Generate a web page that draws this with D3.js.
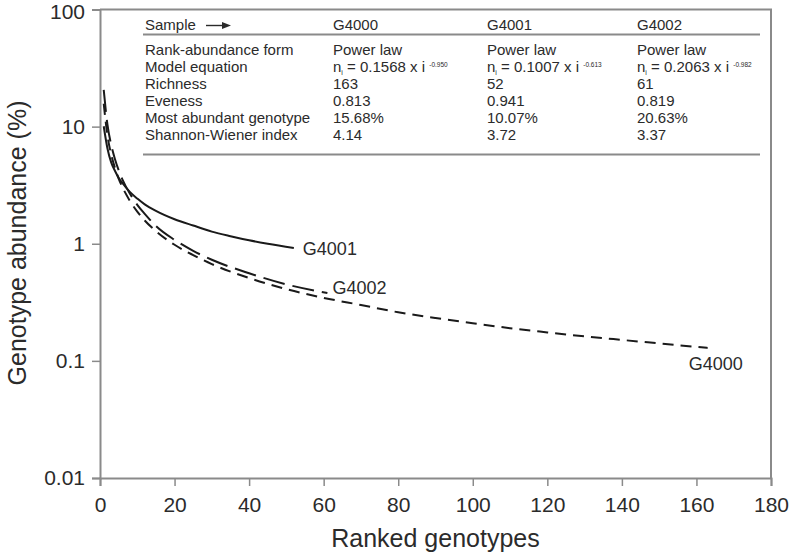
<!DOCTYPE html>
<html>
<head>
<meta charset="utf-8">
<script src="https://cdn.jsdelivr.net/npm/d3@7"></script>
<style>
  html, body { margin: 0; padding: 0; background: #fff; }
  svg { display: block; font-family: "Liberation Sans", Arial, sans-serif; }
</style>
</head>
<body>
<svg id="chart" width="789" height="555"></svg>
<script>
// ---- Data ----
const ranksG4000 = [1, 2, 3, 4, 5, 6, 8, 10, 12, 15, 20, 25, 30, 40, 50, 60, 70, 80, 90, 100, 110, 120, 130, 140, 150, 163];
const valuesG4000 = [15.68, 8.4, 5.8, 4.45, 3.6, 3.05, 2.33, 1.88, 1.58, 1.28, 0.98, 0.80, 0.67, 0.51, 0.41, 0.345, 0.30, 0.26, 0.232, 0.21, 0.19, 0.175, 0.162, 0.151, 0.141, 0.129];

const ranksG4001 = [1, 2, 3, 4, 5, 6, 8, 10, 12, 15, 20, 25, 30, 35, 40, 45, 52];
const valuesG4001 = [10.07, 6.5, 4.95, 4.2, 3.66, 3.3, 2.77, 2.43, 2.17, 1.91, 1.62, 1.43, 1.27, 1.16, 1.07, 1.0, 0.92];

const ranksG4002 = [1, 2, 3, 4, 5, 6, 8, 10, 12, 15, 20, 25, 30, 40, 50, 61];
const valuesG4002 = [20.63, 10.4, 7.0, 5.3, 4.25, 3.55, 2.68, 2.15, 1.8, 1.42, 1.08, 0.87, 0.73, 0.56, 0.45, 0.38];

const seriesNames = ["G4000", "G4001", "G4002"];

// Axis ticks
const xTicks = [0, 20, 40, 60, 80, 100, 120, 140, 160, 180];
const yTicks = [0.01, 0.1, 1, 10, 100];
const yTickLabels = ["0.01", "0.1", "1", "10", "100"];

// Table contents
const tableRowLabels = ["Rank-abundance form", "Model equation", "Richness", "Eveness", "Most abundant genotype", "Shannon-Wiener index"];
const rankForm = ["Power law", "Power law", "Power law"];
const modelCoef = ["0.1568", "0.1007", "0.2063"];
const modelExp = ["-0.950", "-0.613", "-0.982"];
const richness = ["163", "52", "61"];
const evenness = ["0.813", "0.941", "0.819"];
const mostAbundant = ["15.68%", "10.07%", "20.63%"];
const shannon = ["4.14", "3.72", "3.37"];

// ---- Layout ----
const svg = d3.select("#chart");
const pLeft = 100, pRight = 771, pTop = 9.5, pBottom = 478;
const axisColor = "#8a8a8a";
const textColor = "#2b2b2b";

const x = d3.scaleLinear().domain([0, 180]).range([pLeft, pRight]);
const y = d3.scaleLog().domain([0.01, 100]).range([pBottom, pTop]);

// Frame (top & right)
svg.append("path")
  .attr("d", `M${pLeft},${pTop}H${pRight}V${pBottom}`)
  .attr("fill", "none").attr("stroke", axisColor).attr("stroke-width", 2);

// X axis
const xAxis = svg.append("g")
  .attr("transform", `translate(0,${pBottom})`)
  .call(d3.axisBottom(x).tickValues(xTicks).tickSize(8).tickPadding(11).tickFormat(d3.format("d")));
xAxis.select(".domain").attr("stroke", axisColor).attr("stroke-width", 2);
xAxis.selectAll(".tick line").attr("stroke", axisColor).attr("stroke-width", 1.5);
xAxis.selectAll(".tick text").attr("font-size", 21).attr("fill", textColor)
  .attr("font-family", "Liberation Sans, Arial, sans-serif");

// Y axis
const yAxis = svg.append("g")
  .attr("transform", `translate(${pLeft},0)`)
  .call(d3.axisLeft(y).tickValues(yTicks).tickSize(8).tickPadding(7)
    .tickFormat((d, i) => yTickLabels[i]));
yAxis.select(".domain").attr("stroke", axisColor).attr("stroke-width", 2);
yAxis.selectAll(".tick line").attr("stroke", axisColor).attr("stroke-width", 1.5);
yAxis.selectAll(".tick text").attr("font-size", 21).attr("fill", textColor)
  .attr("font-family", "Liberation Sans, Arial, sans-serif");
// keep the top label inside the picture
yAxis.selectAll(".tick text").filter(d => d === 100).attr("dy", "0.42em");

// Axis titles
svg.append("text")
  .attr("x", (pLeft + pRight) / 2).attr("y", 547)
  .attr("text-anchor", "middle").attr("font-size", 25).attr("fill", textColor)
  .text("Ranked genotypes");
svg.append("text")
  .attr("transform", `translate(26,243) rotate(-90)`)
  .attr("text-anchor", "middle").attr("font-size", 25).attr("fill", textColor)
  .text("Genotype abundance (%)");

// Curves
const series = [
  { name: "G4000", ranks: ranksG4000, values: valuesG4000, dash: "11,7" },
  { name: "G4001", ranks: ranksG4001, values: valuesG4001, dash: null },
  { name: "G4002", ranks: ranksG4002, values: valuesG4002, dash: "22,8" }
];
const line = d3.line()
  .x(d => x(d[0])).y(d => y(d[1]))
  .curve(d3.curveMonotoneX);
series.forEach(s => {
  const pts = s.ranks.map((r, i) => [r, s.values[i]]);
  svg.append("path")
    .datum(pts)
    .attr("d", line)
    .attr("fill", "none")
    .attr("stroke", "#1a1a1a")
    .attr("stroke-width", 2)
    .attr("stroke-dasharray", s.dash);
});

// Series labels near curve ends
const labelOffsets = { G4000: [-19, 16], G4001: [9, 1], G4002: [5, -5] };
series.forEach(s => {
  const lastR = s.ranks[s.ranks.length - 1];
  const lastV = s.values[s.values.length - 1];
  const off = labelOffsets[s.name];
  svg.append("text")
    .attr("x", x(lastR) + off[0]).attr("y", y(lastV) + off[1])
    .attr("dy", "0.35em")
    .attr("font-size", 18).attr("fill", textColor)
    .text(s.name);
});

// ---- Table ----
const tbl = svg.append("g").attr("font-size", 15).attr("fill", textColor);
const colX = [145, 333, 487, 637];
const headerY = 25;
const rowY0 = 50, rowStep = 17;

tbl.append("text").attr("x", colX[0]).attr("y", headerY).attr("dy", "0.35em").text("Sample");
// arrow
tbl.append("line").attr("x1", 206).attr("x2", 224).attr("y1", headerY + 0.5).attr("y2", headerY + 0.5)
  .attr("stroke", textColor).attr("stroke-width", 1.4);
tbl.append("path").attr("d", `M222,${headerY - 3}L231,${headerY + 0.5}L222,${headerY + 4}Z`).attr("fill", textColor);

seriesNames.forEach((n, i) => {
  tbl.append("text").attr("x", colX[i + 1]).attr("y", headerY).attr("dy", "0.35em").text(n);
});

// horizontal rules
[34.5, 154.5].forEach(yy => {
  svg.append("line").attr("x1", 143).attr("x2", 760).attr("y1", yy).attr("y2", yy)
    .attr("stroke", axisColor).attr("stroke-width", 2);
});

tableRowLabels.forEach((lab, r) => {
  tbl.append("text").attr("x", colX[0]).attr("y", rowY0 + r * rowStep).attr("dy", "0.35em").text(lab);
});

const simpleRows = { 0: rankForm, 2: richness, 3: evenness, 4: mostAbundant, 5: shannon };
Object.keys(simpleRows).forEach(k => {
  const r = +k;
  simpleRows[k].forEach((v, i) => {
    tbl.append("text").attr("x", colX[i + 1]).attr("y", rowY0 + r * rowStep).attr("dy", "0.35em").text(v);
  });
});

// equations
modelCoef.forEach((c, i) => {
  const t = tbl.append("text").attr("x", colX[i + 1]).attr("y", rowY0 + 1 * rowStep).attr("dy", "0.35em");
  t.append("tspan").text("n");
  t.append("tspan").attr("font-size", 7).attr("dy", "3").text("i");
  t.append("tspan").attr("dy", "-3").text(" = " + c + " x i ");
  t.append("tspan").attr("font-size", 6.5).attr("dy", "-5").text(modelExp[i]);
});
</script>
</body>
</html>
